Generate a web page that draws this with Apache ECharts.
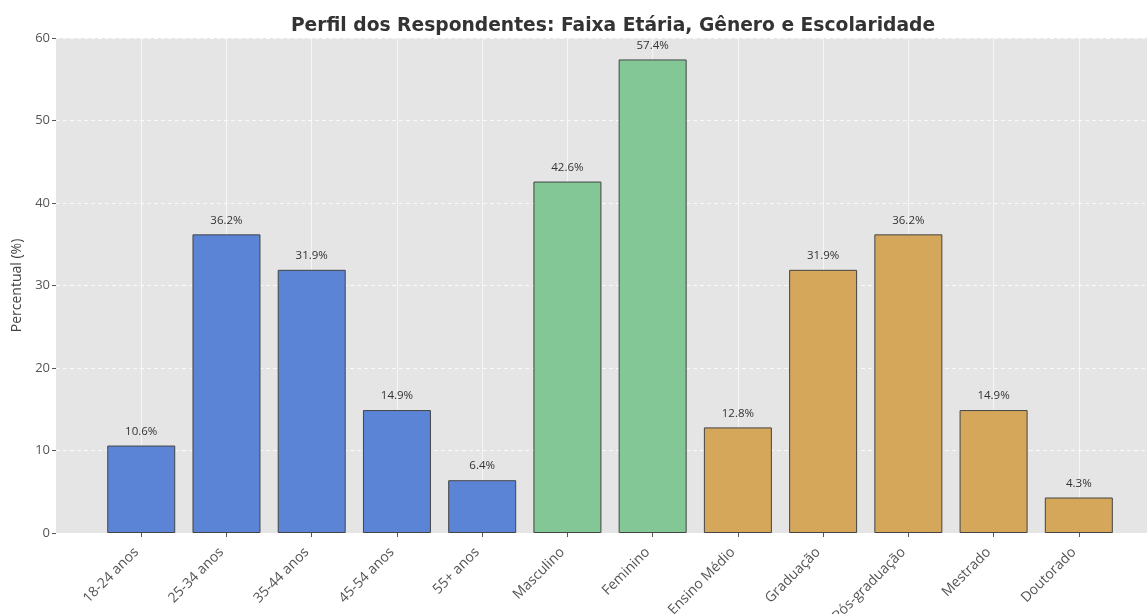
<!DOCTYPE html>
<html>
<head>
<meta charset="utf-8">
<script src="https://cdn.jsdelivr.net/npm/echarts@6/dist/echarts.min.js"></script>
<style>
  html, body { margin: 0; padding: 0; background: #fff; }
  #chart { width: 1147px; height: 614px; }
</style>
</head>
<body>
<div id="chart"></div>
<script>
// categorias e valores (%)
const categories = ['18-24 anos', '25-34 anos', '35-44 anos', '45-54 anos', '55+ anos',
  'Masculino', 'Feminino',
  'Ensino Médio', 'Graduação', 'Pós-graduação', 'Mestrado', 'Doutorado']
const values = [10.6, 36.2, 31.9, 14.9, 6.4, 42.6, 57.4, 12.8, 31.9, 36.2, 14.9, 4.3]
const groups = ['idade', 'idade', 'idade', 'idade', 'idade', 'genero', 'genero',
  'esc', 'esc', 'esc', 'esc', 'esc']
const yTicks = [0, 10, 20, 30, 40, 50, 60]

const cores = { idade: '#5b84d6', genero: '#83c797', esc: '#d5a75b' }
const idx = categories.map((_, i) => i)
const fonteTitulo = '"DejaVu Sans", sans-serif'
const fonte = '"Open Sans", "Noto Sans", sans-serif'

const chart = echarts.init(document.getElementById('chart'))
chart.setOption({
  animation: false,
  textStyle: { fontFamily: fonte },
  title: {
    text: 'Perfil dos Respondentes: Faixa Etária, Gênero e Escolaridade',
    left: 608,
    top: 12,
    textAlign: 'center',
    textStyle: { fontSize: 18.7, fontWeight: 'bold', color: '#333', fontFamily: fonteTitulo }
  },
  grid: {
    left: 56, right: 0, top: 38, bottom: 81,
    outerBoundsMode: 'none',
    backgroundColor: '#e5e5e5', show: true, borderWidth: 0
  },
  xAxis: {
    type: 'value',
    min: -1,
    max: 11.8,
    axisLine: { show: false, onZero: false },
    axisTick: { show: true, customValues: idx, length: 4, lineStyle: { color: '#555' } },
    axisLabel: {
      customValues: idx,
      rotate: 45,
      margin: 22,
      fontSize: 14,
      color: '#555',
      verticalAlign: 'bottom',
      formatter: v => categories[Math.round(v)] || ''
    },
    splitLine: { show: true, lineStyle: { color: 'rgba(255,255,255,0.65)', width: 1 } }
  },
  yAxis: {
    type: 'value',
    min: yTicks[0],
    max: yTicks[yTicks.length - 1],
    interval: 10,
    name: 'Percentual (%)',
    nameLocation: 'middle',
    nameGap: 32,
    nameTextStyle: { fontSize: 14, color: '#444' },
    axisLine: { show: false, onZero: false },
    axisTick: { show: true, length: 4, lineStyle: { color: '#555' } },
    axisLabel: { fontSize: 13, color: '#555', margin: 6 },
    splitLine: { show: true, lineStyle: { color: 'rgba(255,255,255,0.8)', type: [4, 3], width: 1 } }
  },
  series: [{
    type: 'bar',
    barWidth: 68,
    data: values.map((v, i) => ({
      value: [i, v],
      itemStyle: { color: cores[groups[i]], borderColor: '#444', borderWidth: 1 }
    })),
    label: {
      show: true,
      position: 'top',
      distance: 8,
      fontSize: 11.5,
      color: '#333',
      formatter: p => p.value[1].toFixed(1) + '%'
    }
  }]
})
</script>
</body>
</html>
